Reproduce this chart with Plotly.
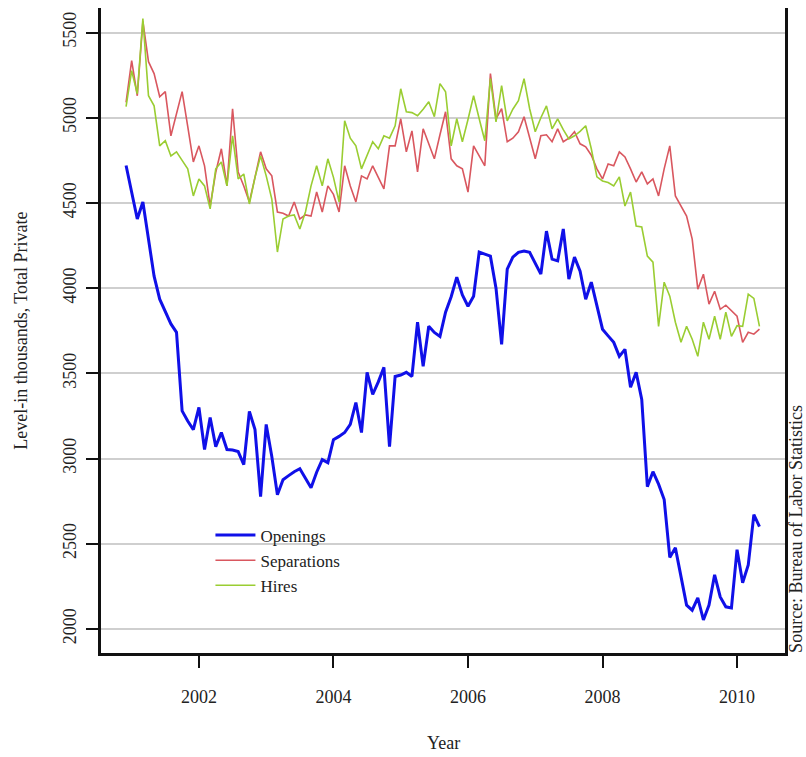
import plotly.graph_objects as go

# JOLTS monthly levels (thousands), total private, Dec 2000 - May 2010
start_year = 2000
start_month = 12
openings = [
    4720, 4560, 4406, 4506, 4300, 4070, 3935, 3860, 3790, 3741, 3280, 3220, 3170,
    3300, 3053, 3241, 3070, 3153, 3053, 3050, 3041, 2965, 3276, 3170, 2776,
    3200, 3012, 2788, 2876, 2900, 2923, 2940, 2888, 2829, 2920, 2994, 2976,
    3111, 3130, 3153, 3200, 3329, 3153, 3506, 3376, 3450, 3535, 3070, 3482,
    3490, 3506, 3482, 3800, 3541, 3776, 3740, 3717, 3859, 3950, 4065, 3960,
    3894, 3953, 4212, 4200, 4188, 4000, 3670, 4112, 4182, 4210, 4218, 4210,
    4150, 4082, 4335, 4170, 4160, 4347, 4053, 4182, 4100, 3935, 4035, 3900,
    3759, 3720, 3682, 3600, 3641, 3418, 3506, 3347, 2835, 2923, 2850, 2760,
    2420, 2476, 2306, 2140, 2110, 2182, 2053, 2140, 2318, 2188, 2130, 2123,
    2465, 2271, 2376, 2671, 2600,
]
separations = [
    5090, 5335, 5129, 5565, 5329, 5259, 5123, 5153, 4894, 5020, 5153, 4950, 4741,
    4835, 4718, 4482, 4680, 4818, 4600, 5053, 4682, 4600, 4506, 4650, 4800,
    4700, 4659, 4447, 4440, 4423, 4506, 4406, 4430, 4423, 4564, 4447, 4600,
    4550, 4447, 4718, 4600, 4506, 4659, 4641, 4718, 4650, 4582, 4835, 4835,
    4994, 4800, 4923, 4682, 4935, 4850, 4759, 4900, 5035, 4759, 4718, 4700,
    4564, 4835, 4780, 4718, 5259, 4994, 5053, 4859, 4880, 4918, 5006, 4876,
    4759, 4894, 4900, 4859, 4935, 4859, 4880, 4918, 4847, 4829, 4780, 4700,
    4641, 4729, 4718, 4800, 4770, 4700, 4623, 4682, 4612, 4641, 4541, 4700,
    4835, 4541, 4480, 4423, 4288, 3994, 4082, 3906, 3982, 3876, 3900, 3865,
    3835, 3682, 3741, 3730, 3759,
]
hires = [
    5065, 5276, 5141, 5582, 5129, 5070, 4835, 4865, 4776, 4800, 4750, 4700, 4541,
    4641, 4600, 4465, 4700, 4741, 4600, 4894, 4641, 4670, 4494, 4650, 4776,
    4659, 4523, 4212, 4406, 4423, 4430, 4347, 4447, 4600, 4718, 4600, 4759,
    4650, 4506, 4982, 4880, 4835, 4700, 4780, 4859, 4818, 4894, 4880, 4953,
    5170, 5035, 5030, 5012, 5050, 5094, 5006, 5200, 5153, 4835, 4994, 4859,
    4990, 5129, 4994, 4865, 5230, 4976, 5188, 4982, 5050, 5100, 5229, 5053,
    4918, 5000, 5070, 4935, 4994, 4930, 4876, 4894, 4920, 4953, 4818, 4653,
    4629, 4620, 4600, 4653, 4482, 4564, 4365, 4359, 4188, 4153, 3776, 4035,
    3953, 3800, 3682, 3776, 3700, 3600, 3800, 3700, 3835, 3700, 3859, 3717,
    3780, 3776, 3965, 3940, 3776,
]
x_ticks = [2002, 2004, 2006, 2008, 2010]
y_ticks = [2000, 2500, 3000, 3500, 4000, 4500, 5000, 5500]

# time index like an R monthly ts
t = [start_year + (start_month - 1 + k) / 12 for k in range(len(openings))]

FONT = "Liberation Serif"
fig = go.Figure()
fig.add_trace(go.Scatter(x=t, y=openings, mode="lines", name="Openings",
                         line=dict(color="#1010e8", width=3)))
fig.add_trace(go.Scatter(x=t, y=separations, mode="lines", name="Separations",
                         line=dict(color="#d9575f", width=1.6)))
fig.add_trace(go.Scatter(x=t, y=hires, mode="lines", name="Hires",
                         line=dict(color="#9acd32", width=1.6)))

fig.update_layout(
    width=806, height=757,
    margin=dict(l=101, r=21, t=8, b=104),
    paper_bgcolor="white", plot_bgcolor="white",
    font=dict(family=FONT, size=18, color="#222"),
    showlegend=True,
    legend=dict(x=0.16, y=0.21, xanchor="left", yanchor="top",
                bgcolor="rgba(0,0,0,0)", font=dict(family=FONT, size=17),
                tracegroupgap=0, itemwidth=40),
    xaxis=dict(range=[2000.544, 2010.713], tickvals=x_ticks,
               ticks="outside", ticklen=12, tickwidth=2, tickcolor="#111",
               showline=True, linecolor="#111", linewidth=2.5,
               showgrid=False, zeroline=False, ticklabelstandoff=14),
    yaxis=dict(range=[1859, 5644], tickvals=y_ticks, tickangle=-90,
               ticks="outside", ticklen=12, tickwidth=2, tickcolor="#111",
               showline=True, mirror=True, linecolor="#111", linewidth=2.5,
               showgrid=True, gridcolor="#cfcfcf", gridwidth=1.5,
               zeroline=False, ticklabelstandoff=3),
    annotations=[
        dict(text="Year", xref="paper", yref="paper", x=0.5, y=-0.14,
             xanchor="center", yanchor="middle", showarrow=False,
             font=dict(family=FONT, size=18)),
        dict(text="Level-in thousands, Total Private", xref="paper", yref="paper",
             x=-0.118, y=0.5, textangle=-90, xanchor="center", yanchor="middle",
             showarrow=False, font=dict(family=FONT, size=18)),
        dict(text="Source: Bureau of Labor Statistics", xref="paper", yref="paper",
             x=1.016, y=-0.003, textangle=-90, xanchor="center", yanchor="bottom",
             showarrow=False, font=dict(family=FONT, size=18)),
    ],
)

fig.write_html("out.html")
